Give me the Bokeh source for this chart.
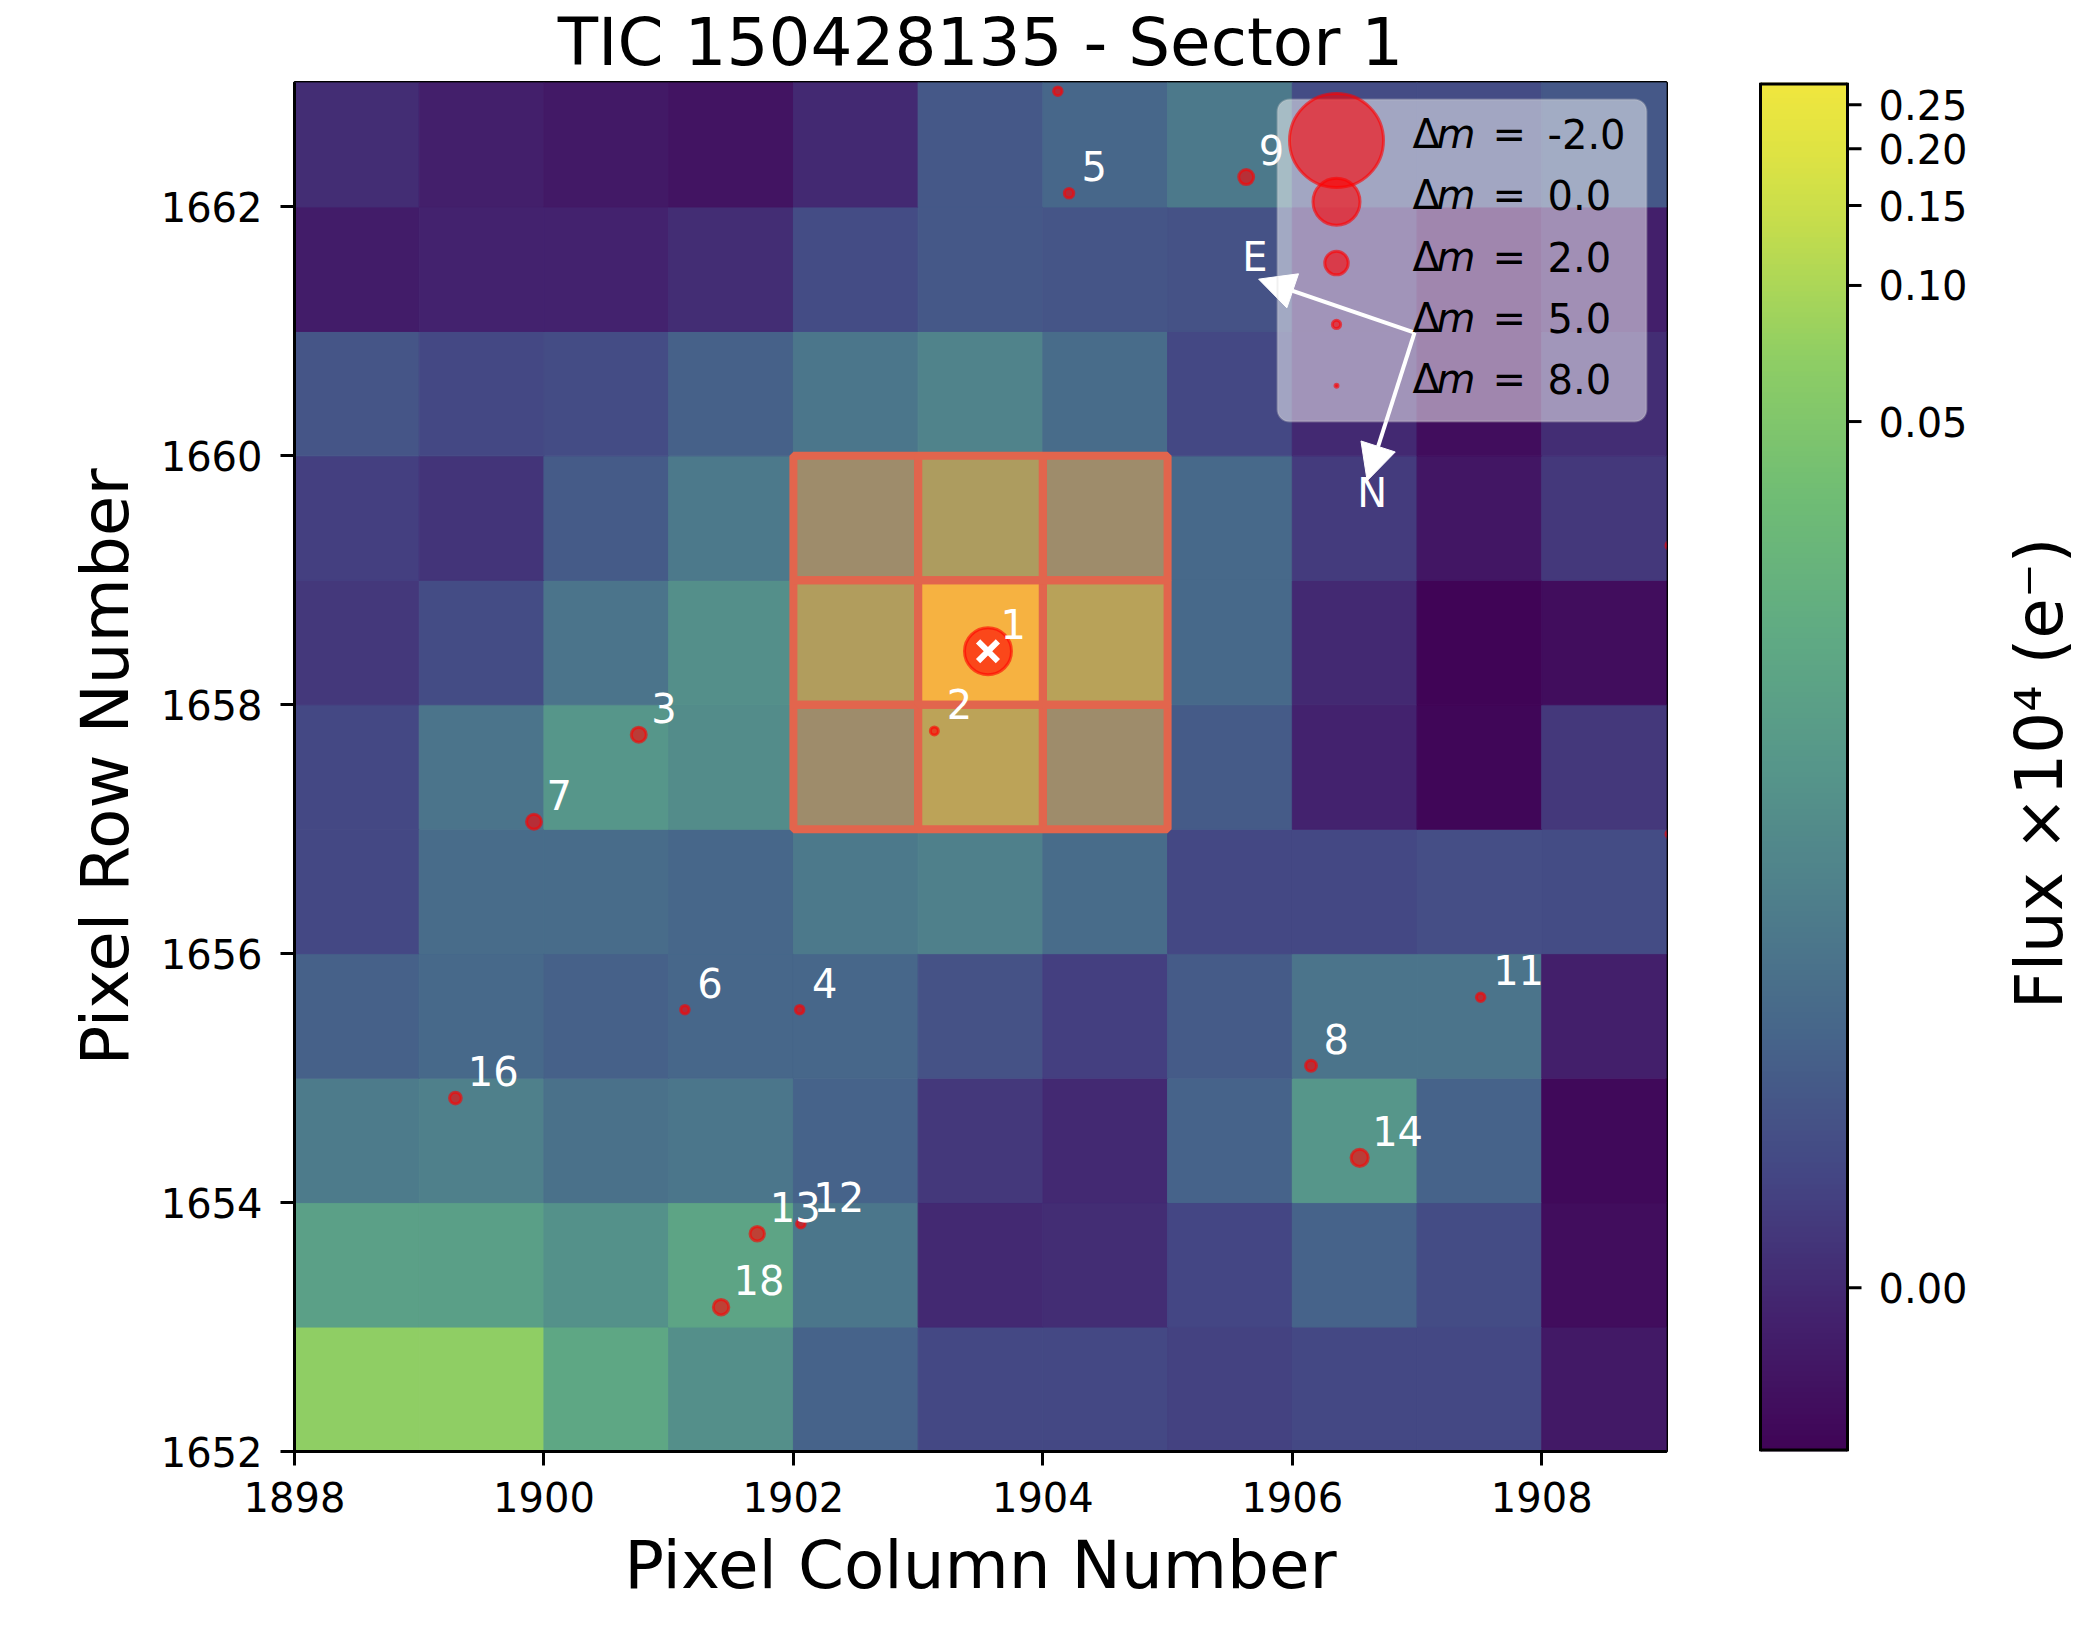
import numpy as np
from bokeh.plotting import figure
from bokeh.models import (Range1d, LinearColorMapper, FixedTicker, BoxAnnotation, Arrow,
                          NormalHead, ColumnDataSource)
from bokeh.layouts import row
from bokeh.transform import transform
from bokeh.core.properties import value
from bokeh.embed import file_html
from bokeh.resources import INLINE

# ---------------- data ----------------
title_text = "TIC 150428135 - Sector 1"
x_label = "Pixel Column Number"
y_label = "Pixel Row Number"
cbar_label = "Flux ×10⁴  (e⁻)"

col_start, row_start = 1898, 1652
n_cols, n_rows = 11, 11
x_ticks = [1898, 1900, 1902, 1904, 1906, 1908]
y_ticks = [1652, 1654, 1656, 1658, 1660, 1662]
cbar_ticks = [0.00, 0.05, 0.10, 0.15, 0.20, 0.25]

# mean flux (x 10^4 e-) per pixel, rows listed from top (1662) to bottom (1652),
# columns 1898 ... 1908
flux_row_1662 = [0.00005, -0.00012, -0.00019, -0.00024, 0.00000, 0.00105, 0.00174, 0.00323, 0.00064, 0.00064, 0.00105]
flux_row_1661 = [-0.00015, -0.00008, -0.00008, 0.00005, 0.00064, 0.00105, 0.00094, 0.00083, 0.00000, -0.00030, -0.00012]
flux_row_1660 = [0.00094, 0.00055, 0.00064, 0.00144, 0.00297, 0.00446, 0.00210, 0.00055, 0.00000, -0.00030, 0.00005]
flux_row_1659 = [0.00033, 0.00015, 0.00117, 0.00323, 0.01476, 0.03987, 0.01476, 0.00191, 0.00027, -0.00022, 0.00021]
flux_row_1658 = [0.00021, 0.00064, 0.00273, 0.00656, 0.04587, 0.27964, 0.06067, 0.00191, 0.00000, -0.00036, -0.00030]
flux_row_1657 = [0.00055, 0.00273, 0.00822, 0.00608, 0.01476, 0.06978, 0.01476, 0.00117, -0.00008, -0.00034, 0.00021]
flux_row_1656 = [0.00055, 0.00210, 0.00210, 0.00174, 0.00323, 0.00412, 0.00210, 0.00055, 0.00055, 0.00073, 0.00064]
flux_row_1655 = [0.00144, 0.00191, 0.00144, 0.00174, 0.00174, 0.00083, 0.00033, 0.00117, 0.00273, 0.00273, -0.00012]
flux_row_1654 = [0.00350, 0.00412, 0.00250, 0.00297, 0.00158, 0.00021, 0.00000, 0.00158, 0.00822, 0.00158, -0.00032]
flux_row_1653 = [0.01188, 0.01104, 0.00707, 0.01372, 0.00297, 0.00000, 0.00005, 0.00048, 0.00158, 0.00064, -0.00030]
flux_row_1652 = [0.06978, 0.06978, 0.01476, 0.00656, 0.00158, 0.00055, 0.00055, 0.00040, 0.00055, 0.00055, -0.00019]

aperture_cols = [1902, 1903, 1904, 1902, 1903, 1904, 1902, 1903, 1904]
aperture_rows = [1657, 1657, 1657, 1658, 1658, 1658, 1659, 1659, 1659]

# Gaia sources: id, pixel column, pixel row, magnitude difference to the target
star_ids = ["1", "2", "3", "4", "5", "6", "7", "8", "9", "10", "11", "12", "13", "14", "15", "16", "17", "18"]
star_col = [1903.56, 1903.13, 1900.76, 1902.05, 1904.21, 1901.13, 1899.92, 1906.15, 1905.63,
            1904.12, 1907.51, 1902.06, 1901.71, 1906.54, 1909.03, 1899.29, 1909.03, 1901.42]
star_row = [1658.43, 1657.79, 1657.76, 1655.55, 1662.11, 1655.55, 1657.06, 1655.10, 1662.24,
            1662.93, 1655.65, 1653.83, 1653.75, 1654.36, 1659.28, 1654.84, 1656.96, 1653.16]
star_dmag = [0.0, 5.1, 3.3, 4.9, 4.6, 4.9, 3.3, 4.2, 3.3,
             4.9, 4.9, 4.9, 3.4, 2.9, 4.9, 4.0, 4.9, 3.2]

legend_dmag = [-2.0, 0.0, 2.0, 5.0, 8.0]

compass_origin = (1906.98, 1660.99)
compass_east = (1905.73, 1661.42)
compass_north = (1906.60, 1659.80)
compass_east_label = (1905.70, 1661.60)
compass_north_label = (1906.64, 1659.70)

# ---------------- style helpers ----------------
FONT = "DejaVu Sans"
# muted viridis-like colour ramp (stretch position -> rgb)
ramp_pos = [0.00, 0.10, 0.20, 0.30, 0.40, 0.50, 0.60, 0.70, 0.80, 0.85, 0.90, 0.95, 1.00]
ramp_rgb = [(64, 4, 86), (67, 35, 110), (68, 70, 132), (70, 100, 138), (78, 126, 139),
            (86, 150, 138), (96, 171, 131), (112, 189, 116), (143, 206, 100),
            (170, 214, 88), (198, 221, 76), (222, 227, 67), (240, 230, 62)]
_t = np.linspace(0, 1, 256)
_rgb = np.array(ramp_rgb, dtype=float)
palette = ["#%02x%02x%02x" % tuple(int(round(np.interp(t, ramp_pos, _rgb[:, k]))) for k in range(3))
           for t in _t]

flux_top_down = np.array([flux_row_1662, flux_row_1661, flux_row_1660, flux_row_1659,
                          flux_row_1658, flux_row_1657, flux_row_1656, flux_row_1655,
                          flux_row_1654, flux_row_1653, flux_row_1652])
flux = flux_top_down[::-1]          # row index 0 -> 1652
vmin, vmax = float(flux.min()), float(flux.max())


def log_stretch(v):
    x = (np.asarray(v, dtype=float) - vmin) / (vmax - vmin)
    return np.log10(1000.0 * x + 1.0) / np.log10(1001.0)


def marker_size(dm):
    return 47.0 * 2.0 ** (-np.asarray(dm, dtype=float) / 2.0)


mapper = LinearColorMapper(palette=palette, low=0.0, high=1.0)

X0, X1 = col_start, col_start + n_cols
Y0, Y1 = row_start, row_start + n_rows
FRAME_W, FRAME_H = 1372, 1369
PX = FRAME_W / (X1 - X0)
PY = FRAME_H / (Y1 - Y0)
FIG_H = 1642
TOP, BOTTOM = 82, FIG_H - 82 - FRAME_H
CAP_MID = 14.6 / PY        # half cap height of 40px text, in data units

# ---------------- main figure ----------------
p = figure(width=294 + FRAME_W + 42, height=FIG_H, x_range=Range1d(X0, X1), y_range=Range1d(Y0, Y1),
           output_backend="svg", toolbar_location=None, title=title_text,
           min_border_left=294, min_border_right=42, min_border_top=TOP, min_border_bottom=BOTTOM,
           x_axis_label=x_label, y_axis_label=y_label)
p.title.text_font = FONT
p.title.text_font_size = "66px"
p.title.text_font_style = "normal"
p.title.text_color = "black"
p.title.align = "center"
p.title.standoff = 3
p.background_fill_color = "white"
p.border_fill_color = "white"
p.outline_line_color = "black"
p.outline_line_width = 3
p.xgrid.visible = False
p.ygrid.visible = False

cc, rr = np.meshgrid(np.arange(n_cols), np.arange(n_rows))
pix_src = ColumnDataSource(dict(
    x=(col_start + cc + 0.5).ravel(),
    y=(row_start + rr + 0.5).ravel(),
    s=log_stretch(flux).ravel(),
))
p.rect(x="x", y="y", width=1, height=1, source=pix_src,
       fill_color=transform("s", mapper), line_color=transform("s", mapper), line_width=1)

# aperture
ap_x = np.array(aperture_cols) + 0.5
ap_y = np.array(aperture_rows) + 0.5
p.rect(x=ap_x, y=ap_y, width=1, height=1, fill_color="tomato", fill_alpha=0.4, line_color=None)
p.rect(x=ap_x, y=ap_y, width=1, height=1, fill_color=None, line_color="#e2654d", line_width=8)

# Gaia stars
star_src = ColumnDataSource(dict(x=star_col, y=star_row, size=marker_size(star_dmag)))
p.scatter(x="x", y="y", size="size", source=star_src, marker="circle",
          fill_color="red", fill_alpha=0.6, line_color="red", line_alpha=0.6, line_width=3)
p.scatter(x=[star_col[0]], y=[star_row[0]], marker="x", size=28,
          line_color="white", line_width=6)

lab_x, lab_y, lab_t = [], [], []
for sid, sx, sy in zip(star_ids, star_col, star_row):
    if sx + 0.1 < X1 and sy + 0.1 < Y1:
        lab_x.append(sx + 0.1)
        lab_y.append(sy + 0.1 + CAP_MID)
        lab_t.append(sid)
p.text(x=lab_x, y=lab_y, text=lab_t, text_color="white", text_font=value(FONT),
       text_font_size="40px", text_align="left", text_baseline="middle")

# compass
for tip in (compass_east, compass_north):
    p.add_layout(Arrow(end=NormalHead(size=36, fill_color="white", line_color="white", line_width=1),
                       x_start=compass_origin[0], y_start=compass_origin[1],
                       x_end=tip[0], y_end=tip[1], line_color="white", line_width=4))
p.text(x=[compass_east_label[0], compass_north_label[0]],
       y=[compass_east_label[1], compass_north_label[1]], text=["E", "N"],
       text_color="white", text_font=value(FONT), text_font_size="40px",
       text_align="center", text_baseline="middle")

# legend (drawn by hand so that marker sizes follow Δm)
leg_left = X0 + (1277 - 294) / PX
leg_right = X0 + (1646 - 294) / PX
leg_top = Y0 + (1451 - 99) / PY
leg_bottom = Y0 + (1451 - 421) / PY
p.add_layout(BoxAnnotation(left=leg_left, right=leg_right, top=leg_top, bottom=leg_bottom,
                           fill_color="white", fill_alpha=0.5, line_color="#cccccc",
                           line_width=2, border_radius=12, level="annotation"))
nl = len(legend_dmag)
leg_marker_x = X0 + (1336 - 294) / PX
leg_text_x = X0 + (1412 - 294) / PX
leg_base = [Y0 + (1451 - (148 + 61.3 * i)) / PY for i in range(nl)]
leg_mark_y = [b + 8 / PY for b in leg_base]
leg_text_y = [b + CAP_MID for b in leg_base]
p.scatter(x=[leg_marker_x] * nl, y=leg_mark_y, size=marker_size(legend_dmag),
          marker="circle", fill_color="red", fill_alpha=0.6, line_color="red",
          line_alpha=0.6, line_width=3, level="overlay")
txt_kw = dict(text_font=value(FONT), text_font_size="40px", text_color="black",
              text_baseline="middle", level="overlay")
p.text(x=[leg_text_x] * nl, y=leg_text_y, text=["Δ"] * nl, **txt_kw)
p.text(x=[leg_text_x] * nl, y=leg_text_y, text=["m"] * nl, x_offset=24,
       text_font_style="italic", **txt_kw)
p.text(x=[leg_text_x] * nl, y=leg_text_y, text=["="] * nl, x_offset=80, **txt_kw)
p.text(x=[leg_text_x] * nl, y=leg_text_y, text=[f"{d:.1f}" for d in legend_dmag],
       x_offset=135, **txt_kw)

for ax, ticks in ((p.xaxis, x_ticks), (p.yaxis, y_ticks)):
    ax.ticker = FixedTicker(ticks=ticks)
    ax.minor_tick_line_color = None
    ax.major_tick_in = 0
    ax.major_tick_out = 14
    ax.major_tick_line_width = 3
    ax.axis_line_width = 3
    ax.major_label_text_font = FONT
    ax.major_label_text_font_size = "40px"
    ax.major_label_text_color = "black"
    ax.axis_label_text_font = FONT
    ax.axis_label_text_font_size = "66px"
    ax.axis_label_text_font_style = "normal"
    ax.axis_label_text_color = "black"
p.xaxis.major_label_standoff = 16
p.xaxis.axis_label_standoff = 12
p.yaxis.major_label_standoff = 18
p.yaxis.axis_label_standoff = 14

# ---------------- colour bar figure (bar, ticks and label drawn as glyphs) ----------------
BAR_PX = 87
PAD = 4
CB_W = 371
cb_frame_w = CB_W - (52 - PAD)
cb = figure(width=CB_W, height=FIG_H,
            x_range=Range1d(-PAD / BAR_PX, -PAD / BAR_PX + cb_frame_w / BAR_PX),
            y_range=Range1d(0, 1),
            output_backend="svg", toolbar_location=None,
            min_border_left=52 - PAD, min_border_right=0,
            min_border_top=TOP, min_border_bottom=BOTTOM,
            x_axis_location=None, y_axis_location=None)
cb.background_fill_color = "white"
cb.border_fill_color = "white"
cb.outline_line_color = None
cb.xgrid.visible = False
cb.ygrid.visible = False
grad = np.linspace(0.0, 1.0, 512).reshape(-1, 1)
cb.image(image=[grad], x=0, y=0, dw=1, dh=1, color_mapper=mapper)
# outline: sides full width, top/bottom doubled because half is clipped at the frame edge
cb.segment(x0=[0, 1], x1=[0, 1], y0=[0, 0], y1=[1, 1], line_color="black", line_width=3)
cb.segment(x0=[0, 0], x1=[1, 1], y0=[0, 1], y1=[0, 1], line_color="black", line_width=6)

tick_pos = [float(log_stretch(t)) for t in cbar_ticks]
cb.segment(x0=[1.0] * len(tick_pos), x1=[1 + 14 / BAR_PX] * len(tick_pos), y0=tick_pos, y1=tick_pos,
           line_color="black", line_width=3)
cb.text(x=[1 + 31 / BAR_PX] * len(tick_pos), y=tick_pos, text=[f"{t:.2f}" for t in cbar_ticks],
        text_font=value(FONT), text_font_size="40px", text_color="black",
        text_align="left", text_baseline="middle")
cb.text(x=[1 + 192 / BAR_PX], y=[0.503], text=[cbar_label], angle=np.pi / 2,
        text_font=value(FONT), text_font_size="66px", text_color="black",
        text_align="center", text_baseline="middle")

layout = row(p, cb)
open("out.html", "w").write(file_html(layout, INLINE))
